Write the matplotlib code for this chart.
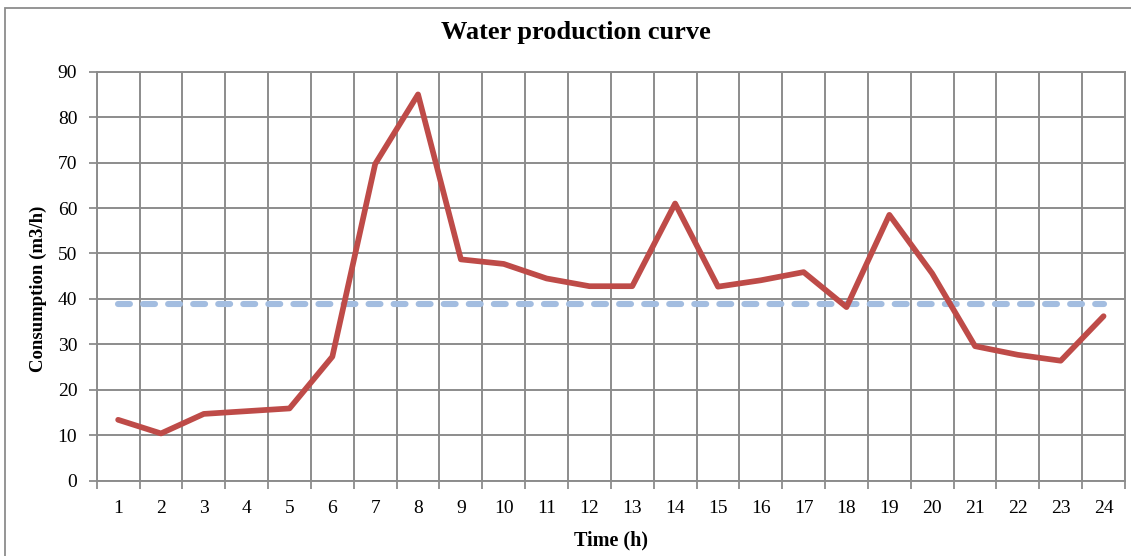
import matplotlib
matplotlib.use("Agg")
import matplotlib.pyplot as plt
from matplotlib.patches import Rectangle
import numpy as np

# Hourly water consumption (m3/h) and the daily average level
hours = list(range(1, 25))
consumption = [13.4, 10.4, 14.7, 15.3, 15.9, 27.3, 69.7, 85.0, 48.7, 47.7,
               44.5, 42.8, 42.8, 61.0, 42.7, 44.1, 45.9, 38.2, 58.5, 45.6,
               29.6, 27.7, 26.4, 36.2]
average = [38.9] * 24
y_ticks = [0, 10, 20, 30, 40, 50, 60, 70, 80, 90]

title = "Water production curve"
x_label = "Time (h)"
y_label = "Consumption (m3/h)"

W, H, DPI = 1131, 556, 100
grid_c = "#8c8c8c"
serif = ["Liberation Serif", "DejaVu Serif"]
plt.rcParams["font.family"] = serif

fig = plt.figure(figsize=(W / DPI, H / DPI), dpi=DPI)
fig.patch.set_facecolor("white")

# chart frame
fig.patches.append(Rectangle((5 / W, -0.1), 1.2, (H - 8) / H + 0.1,
                             transform=fig.transFigure, fill=False,
                             edgecolor=grid_c, linewidth=1.3, zorder=0))

left, right, top, bottom = 96.7, 1125, 71.7, 480.7
ax = fig.add_axes([left / W, (H - bottom) / H, (right - left) / W, (bottom - top) / H])

x = np.array(hours)
ax.set_xlim(0.5, 24.5)
ax.set_ylim(0, 90)

# average level: dashed blue
ax.plot(x, average, color="#a3bde0", linewidth=4.4, dashes=(1.95, 2.15),
        dash_capstyle="round", solid_capstyle="round", zorder=3)
ax.plot(x, consumption, color="#BE4B48", linewidth=4.1,
        solid_joinstyle="round", solid_capstyle="round", zorder=4)

# axes, ticks and grid
ax.set_yticks(y_ticks)
ax.set_xticks(x)
ax.set_xticklabels([str(h) for h in hours])
ax.set_xticks(np.arange(0.5, 25, 1), minor=True)
ax.tick_params(axis="x", which="major", length=0, pad=14, labelsize=14)
ax.tick_params(axis="x", which="minor", length=6, width=1.3, color=grid_c, direction="out")
ax.tick_params(axis="y", which="major", length=6, width=1.3, color=grid_c,
               direction="out", pad=8, labelsize=14)
ax.grid(False)
ax.yaxis.grid(True, which="major", color=grid_c, linewidth=1.4)
ax.xaxis.grid(True, which="minor", color=grid_c, linewidth=1.4)
ax.set_axisbelow(True)
for s in ax.spines.values():
    s.set_color(grid_c)
    s.set_linewidth(1.4)

fig.text(576 / W, (H - 33) / H, title, ha="center", va="center",
         fontsize=19, fontweight="bold")
fig.text(611 / W, (H - 540) / H, x_label, ha="center", va="center",
         fontsize=14.5, fontweight="bold")
fig.text(38 / W, (H - 289) / H, y_label, ha="center", va="center",
         rotation=90, fontsize=13.5, fontweight="bold")

fig.savefig("out.png", dpi=DPI, facecolor="white")
